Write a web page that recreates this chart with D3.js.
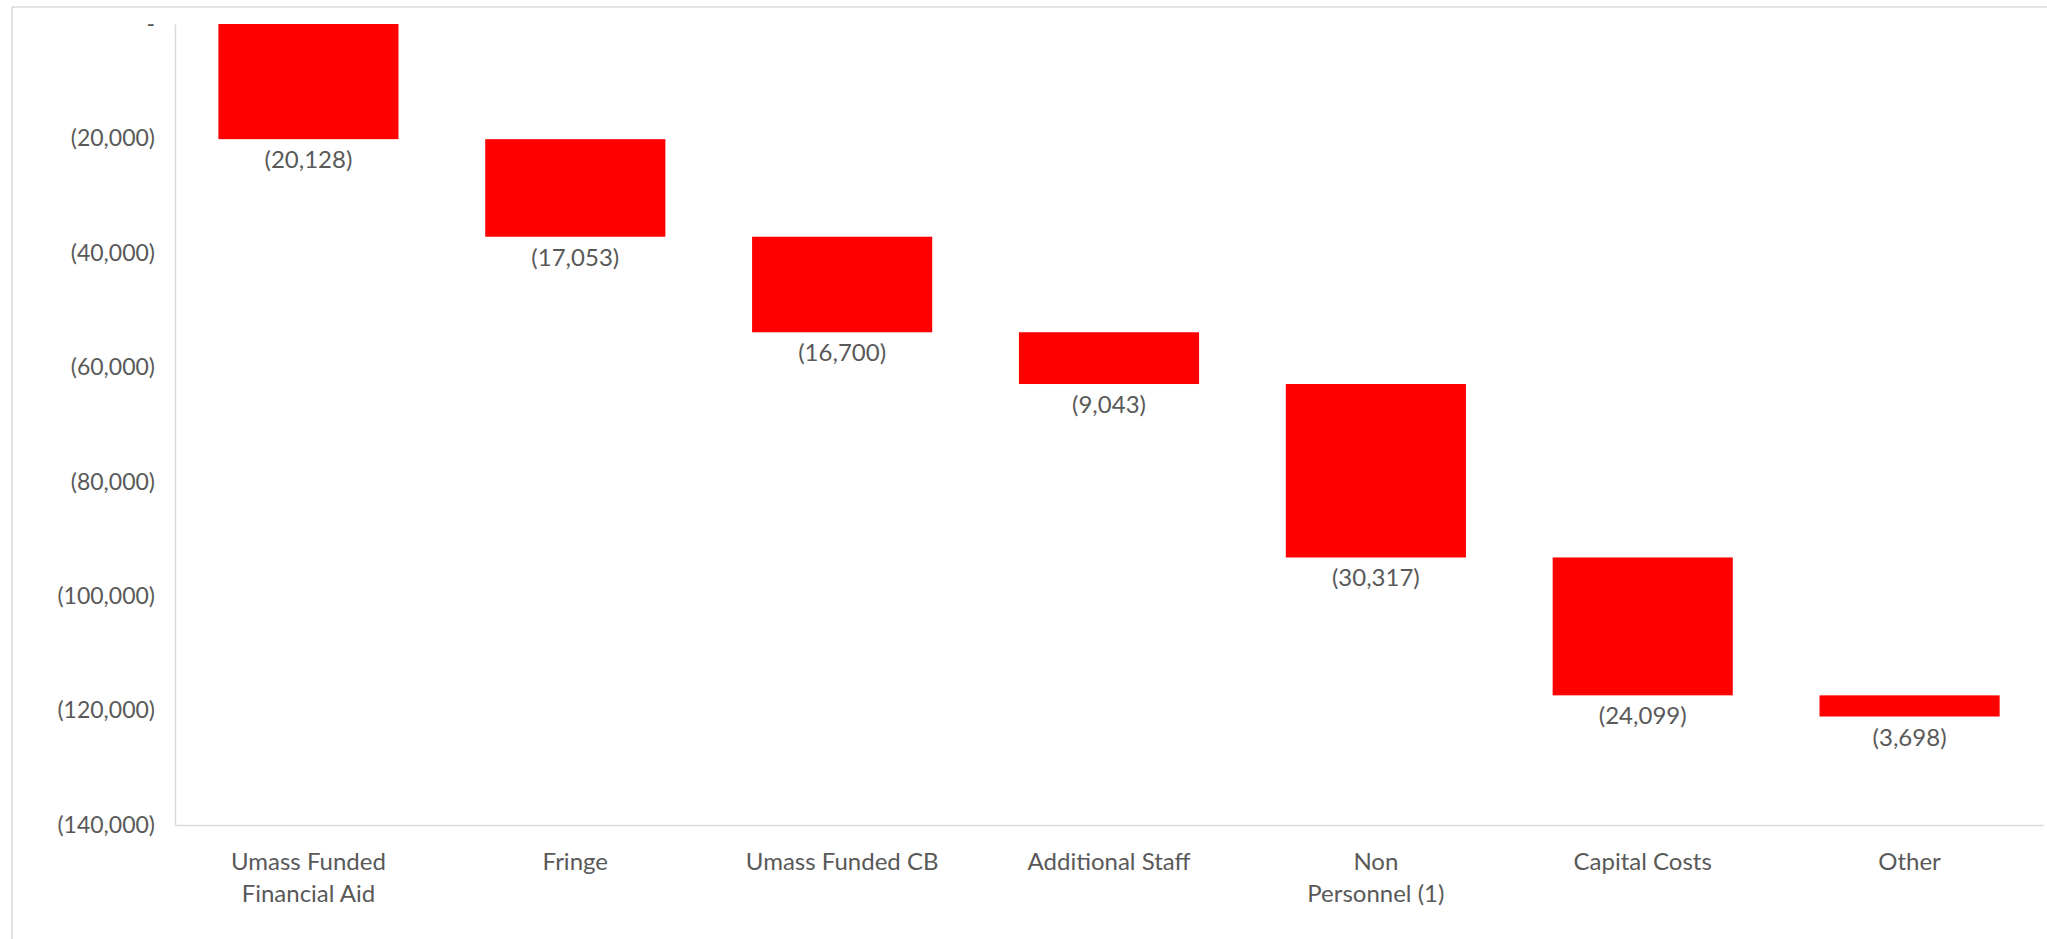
<!DOCTYPE html>
<html>
<head>
<meta charset="utf-8">
<script src="https://cdn.jsdelivr.net/npm/d3@7"></script>
<style>
  html, body { margin: 0; padding: 0; background: #fff; }
  svg { display: block; }
  text { font-family: Lato, "Open Sans", sans-serif; fill: #595959; }
</style>
</head>
<body>
<svg id="chart" width="2047" height="939"></svg>
<script>
// ---- data ----
const categories = ["Umass Funded Financial Aid", "Fringe", "Umass Funded CB", "Additional Staff", "Non Personnel (1)", "Capital Costs", "Other"];
const categoryLines = [["Umass Funded", "Financial Aid"], ["Fringe"], ["Umass Funded CB"], ["Additional Staff"], ["Non", "Personnel (1)"], ["Capital Costs"], ["Other"]];
const changes = [-20128, -17053, -16700, -9043, -30317, -24099, -3698];
const yTicks = [0, -20000, -40000, -60000, -80000, -100000, -120000, -140000];

// ---- layout ----
const svg = d3.select("#chart");
const mLeft = 175, mRight = 2043, mTop = 24, mBottom = 825;
const fmt = d3.format(",");
const paren = v => v === 0 ? "-" : "(" + fmt(Math.abs(v)) + ")";

// waterfall steps
let run = 0;
const steps = changes.map((c, i) => {
  const start = run; run += c;
  return { cat: categories[i], lines: categoryLines[i], start, end: run, value: c };
});

const x = d3.scaleBand().domain(categories).range([mLeft, mRight]).paddingInner(0.325).paddingOuter(0.1625);
const y = d3.scaleLinear().domain([0, -140000]).range([mTop, mBottom]);

// outer border (top + left)
svg.append("line").attr("x1", 12).attr("x2", 2047).attr("y1", 7).attr("y2", 7)
  .attr("stroke", "#d9d9d9").attr("stroke-width", 1.5);
svg.append("line").attr("x1", 12).attr("x2", 12).attr("y1", 7).attr("y2", 939)
  .attr("stroke", "#d9d9d9").attr("stroke-width", 1.5);

// y axis
const yAxis = svg.append("g").attr("transform", `translate(${mLeft},0)`)
  .call(d3.axisLeft(y).tickValues(yTicks).tickFormat(paren).tickSize(0).tickPadding(20));
yAxis.select(".domain").attr("stroke", "#d9d9d9").attr("stroke-width", 1.5);
yAxis.selectAll("text").style("font-size", "23px").attr("fill", "#595959")
  .style("font-family", "Lato, 'Open Sans', sans-serif");

// x axis
const xAxis = svg.append("g").attr("transform", `translate(0,${mBottom})`)
  .call(d3.axisBottom(x).tickSize(0).tickFormat(""));
xAxis.select(".domain").attr("stroke", "#d9d9d9").attr("stroke-width", 1.5);
xAxis.selectAll(".tick").each(function(d, i) {
  const t = d3.select(this).append("text")
    .attr("text-anchor", "middle")
    .style("font-size", "24px")
    .attr("fill", "#595959");
  steps[i].lines.forEach((ln, j) => {
    t.append("tspan").attr("x", 0).attr("y", 45 + j * 32).text(ln);
  });
});

// bars
svg.append("g").selectAll("rect").data(steps).join("rect")
  .attr("x", d => x(d.cat))
  .attr("width", x.bandwidth())
  .attr("y", d => y(d.start))
  .attr("height", d => y(d.end) - y(d.start))
  .attr("fill", "#ff0000");

// value labels
svg.append("g").selectAll("text").data(steps).join("text")
  .attr("x", d => x(d.cat) + x.bandwidth() / 2)
  .attr("y", d => y(d.end) + 29)
  .attr("text-anchor", "middle")
  .style("font-size", "24px")
  .text(d => paren(d.value));
</script>
</body>
</html>
